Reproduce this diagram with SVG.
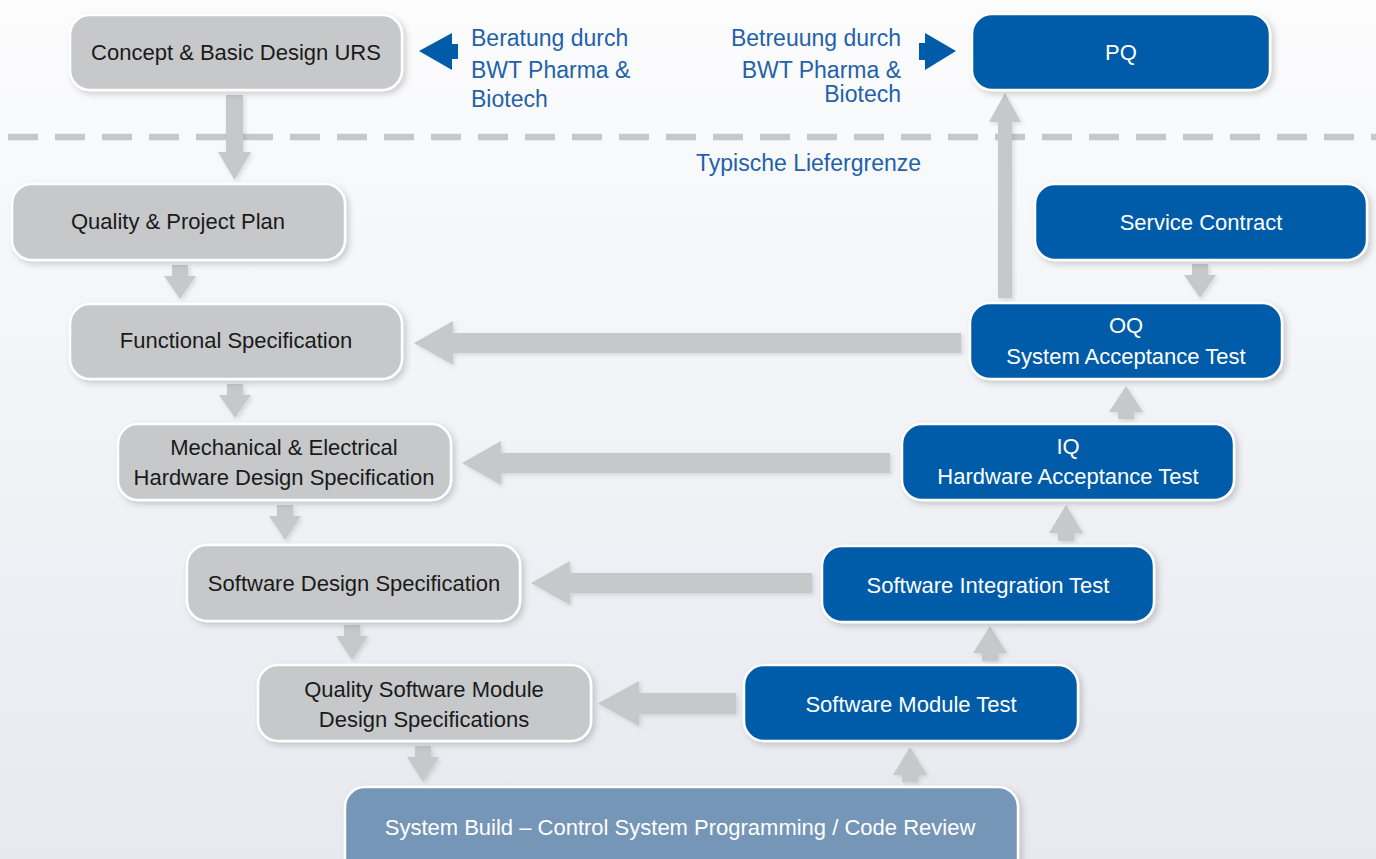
<svg xmlns="http://www.w3.org/2000/svg" width="1376" height="859" viewBox="0 0 1376 859">
  <defs>
    <linearGradient id="bg" x1="0" y1="0" x2="0" y2="1">
      <stop offset="0" stop-color="#fcfcfd"/>
      <stop offset="0.35" stop-color="#f5f6f8"/>
      <stop offset="1" stop-color="#e7e9f0"/>
    </linearGradient>
    <filter id="sh" x="-10%" y="-20%" width="130%" height="150%">
      <feDropShadow dx="3" dy="3" stdDeviation="3" flood-color="#000" flood-opacity="0.18"/>
    </filter>
    <filter id="ash" x="-20%" y="-20%" width="150%" height="150%">
      <feDropShadow dx="2" dy="2" stdDeviation="2" flood-color="#000" flood-opacity="0.12"/>
    </filter>
    <style>
      .gray{fill:#c7c8ca;stroke:#ffffff;stroke-width:2.5;filter:url(#sh)}
      .blue{fill:#005ca8;stroke:#ffffff;stroke-width:2.5;filter:url(#sh)}
      .build{fill:#7596b6;stroke:#ffffff;stroke-width:2.5;filter:url(#sh)}
      .t{font-family:"Liberation Sans",Arial,sans-serif;font-size:22px;text-anchor:middle}
      .dk{fill:#1a1a1a}
      .wt{fill:#ffffff}
      .lbl{font-family:"Liberation Sans",Arial,sans-serif;font-size:23px;fill:#1f62aa}
      .arr{fill:#c7c8ca;filter:url(#ash)}
      .barr{fill:#005ca8}
    </style>
  </defs>

  <rect x="0" y="0" width="1376" height="859" fill="url(#bg)"/>

  <!-- delivery boundary -->
  <line x1="8" y1="137" x2="1376" y2="137" stroke="#c7c8ca" stroke-width="6.5" stroke-dasharray="30 17"/>

  <g id="connectors">
    <!-- Concept -> Quality & Project Plan -->
    <polygon class="arr" points="226,95 243,95 243,152 251,152 234.5,180 218,152 226,152"/>
    <!-- small down arrows -->
    <polygon class="arr" points="172,265 188,265 188,276 196,276 180,299 164,276 172,276"/>
    <polygon class="arr" points="227,384 243,384 243,395 251,395 235,418 219,395 227,395"/>
    <polygon class="arr" points="277,505 293,505 293,516 301,516 285,540 269,516 277,516"/>
    <polygon class="arr" points="344,625 360,625 360,636 368,636 352,660 336,636 344,636"/>
    <polygon class="arr" points="415,746 431,746 431,757 439,757 423,782 407,757 415,757"/>
    <polygon class="arr" points="1192,264 1208,264 1208,275 1216,275 1200,298 1184,275 1192,275"/>
    <!-- small up arrows -->
    <polygon class="arr" points="902,782 918,782 918,775 927,775 910,747 893,775 902,775"/>
    <polygon class="arr" points="982,661 998,661 998,653 1007,653 990,626 973,653 982,653"/>
    <polygon class="arr" points="1058,541 1074,541 1074,533 1083,533 1066,505 1049,533 1058,533"/>
    <polygon class="arr" points="1118,419 1134,419 1134,412 1143,412 1126,386 1109,412 1118,412"/>
    <!-- OQ -> PQ -->
    <polygon class="arr" points="998,298 1012,298 1012,122 1021,122 1005,93 989,122 998,122"/>
    <!-- horizontal back arrows -->
    <polygon class="arr" points="961,333 961,353 453,353 453,365 414,343 453,321 453,333"/>
    <polygon class="arr" points="890,453 890,473 501,473 501,485 462,463 501,441 501,453"/>
    <polygon class="arr" points="812,573 812,593 570,593 570,605 531,583 570,561 570,573"/>
    <polygon class="arr" points="736,693 736,714 639,714 639,726 598,703.5 639,681 639,693"/>
    <!-- blue consulting arrows -->
    <polygon class="barr" points="458,44 458,59 452,59 452,70 419,51 452,33 452,44"/>
    <polygon class="barr" points="919,43 925,43 925,33 956,51 925,70 925,60 919,60"/>
  </g>

  <g id="n-concept">
    <rect class="gray" x="70" y="15" width="332" height="75" rx="20"/>
    <text class="t dk" x="236" y="60">Concept &amp; Basic Design URS</text>
  </g>
  <g id="n-qpp">
    <rect class="gray" x="12" y="184" width="333" height="76" rx="20"/>
    <text class="t dk" x="178" y="229">Quality &amp; Project Plan</text>
  </g>
  <g id="n-functional">
    <rect class="gray" x="70" y="304" width="332" height="75" rx="20"/>
    <text class="t dk" x="236" y="348">Functional Specification</text>
  </g>
  <g id="n-mech">
    <rect class="gray" x="118" y="424" width="333" height="76" rx="20"/>
    <text class="t dk" x="284" y="455">Mechanical &amp; Electrical</text>
    <text class="t dk" x="284" y="485">Hardware Design Specification</text>
  </g>
  <g id="n-swds">
    <rect class="gray" x="187" y="545" width="333" height="76" rx="20"/>
    <text class="t dk" x="354" y="591">Software Design Specification</text>
  </g>
  <g id="n-qsm">
    <rect class="gray" x="258" y="665" width="333" height="76" rx="20"/>
    <text class="t dk" x="424" y="697">Quality Software Module</text>
    <text class="t dk" x="424" y="727">Design Specifications</text>
  </g>
  <g id="n-build">
    <rect class="build" x="345" y="787" width="673" height="95" rx="20"/>
    <text class="t wt" x="680" y="835">System Build – Control System Programming / Code Review</text>
  </g>
  <g id="n-smt">
    <rect class="blue" x="744" y="665" width="334" height="76" rx="20"/>
    <text class="t wt" x="911" y="712">Software Module Test</text>
  </g>
  <g id="n-sit">
    <rect class="blue" x="822" y="546" width="332" height="76" rx="20"/>
    <text class="t wt" x="988" y="593">Software Integration Test</text>
  </g>
  <g id="n-iq">
    <rect class="blue" x="902" y="424" width="332" height="76" rx="20"/>
    <text class="t wt" x="1068" y="454">IQ</text>
    <text class="t wt" x="1068" y="484">Hardware Acceptance Test</text>
  </g>
  <g id="n-oq">
    <rect class="blue" x="970" y="303" width="312" height="76" rx="20"/>
    <text class="t wt" x="1126" y="333">OQ</text>
    <text class="t wt" x="1126" y="364">System Acceptance Test</text>
  </g>
  <g id="n-service">
    <rect class="blue" x="1035" y="184" width="332" height="76" rx="20"/>
    <text class="t wt" x="1201" y="230">Service Contract</text>
  </g>
  <g id="n-pq">
    <rect class="blue" x="972" y="14" width="298" height="76" rx="20"/>
    <text class="t wt" x="1121" y="60">PQ</text>
  </g>

  <g id="labels">
    <text class="lbl" x="471" y="46">Beratung durch</text>
    <text class="lbl" x="471" y="78">BWT Pharma &amp;</text>
    <text class="lbl" x="471" y="107">Biotech</text>
    <text class="lbl" x="901" y="46" text-anchor="end">Betreuung durch</text>
    <text class="lbl" x="901" y="78" text-anchor="end">BWT Pharma &amp;</text>
    <text class="lbl" x="901" y="102" text-anchor="end">Biotech</text>
    <text class="lbl" x="696" y="171">Typische Liefergrenze</text>
  </g>
</svg>
